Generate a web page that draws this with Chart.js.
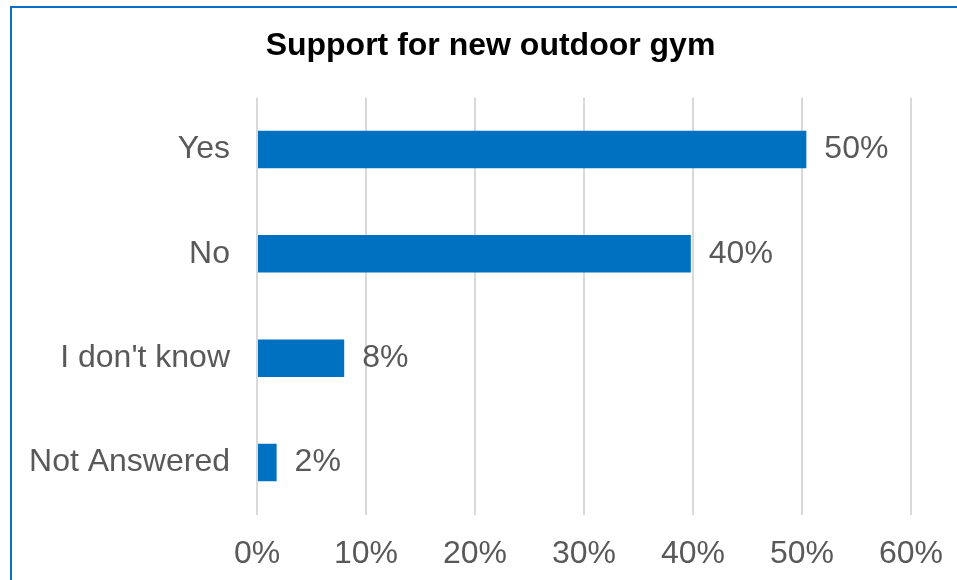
<!DOCTYPE html>
<html>
<head>
<meta charset="utf-8">
<title>Support for new outdoor gym</title>
<script src="https://cdn.jsdelivr.net/npm/chart.js@4"></script>
<style>
  html, body { margin: 0; padding: 0; background: #fff; overflow: hidden; }
  body { width: 957px; height: 580px; position: relative; }
  #box { position: absolute; left: 0; top: 0; width: 957px; height: 593px; }
  #frame {
    position: absolute; left: 10px; top: 6px; width: 1000px; height: 1000px;
    border-left: 2px solid #0a70c6; border-top: 2px solid #0a70c6;
    pointer-events: none;
  }
</style>
</head>
<body>
<div id="box"><canvas id="gym-chart"></canvas></div>
<div id="frame"></div>
<script>
// 数据
var categories = ["Yes", "No", "I don't know", "Not Answered"];
var shares = [50.4, 39.8, 8.0, 1.8];
var xTicks = [0, 10, 20, 30, 40, 50, 60];

var FONT = "'Liberation Sans', Arial, sans-serif";
var GREY = "#595959";

// 条形末端的百分比标签
var barLabels = {
  id: "barLabels",
  afterDatasetsDraw: function (chart) {
    var ctx = chart.ctx;
    var meta = chart.getDatasetMeta(0);
    ctx.save();
    ctx.font = "32px " + FONT;
    ctx.fillStyle = GREY;
    ctx.textAlign = "left";
    ctx.textBaseline = "middle";
    meta.data.forEach(function (bar, i) {
      ctx.fillText(Math.round(shares[i]) + "%", bar.x + 18, bar.y);
    });
    ctx.restore();
  },
};

new Chart(document.getElementById("gym-chart").getContext("2d"), {
  type: "bar",
  data: {
    labels: categories,
    datasets: [{
      data: shares,
      backgroundColor: "#0070C0",
      borderWidth: 0,
      categoryPercentage: 1,
      barPercentage: 0.36,
    }],
  },
  options: {
    indexAxis: "y",
    responsive: true,
    maintainAspectRatio: false,
    animation: false,
    layout: { padding: { left: 24, right: 0, top: 0, bottom: 0 } },
    plugins: {
      legend: { display: false },
      tooltip: { enabled: false },
      title: {
        display: true,
        text: "Support for new outdoor gym",
        color: "#000",
        font: { family: FONT, size: 32, weight: "bold" },
        padding: { top: 27, bottom: 32 },
      },
    },
    scales: {
      x: {
        min: xTicks[0],
        max: xTicks[xTicks.length - 1],
        afterBuildTicks: function (axis) {
          axis.ticks = xTicks.map(function (v) { return { value: v }; });
        },
        // 右侧留白
        afterFit: function (axis) {
          axis.paddingLeft = 0;
          axis.paddingRight = 46;
        },
        border: { display: false },
        grid: { color: "#d9d9d9", lineWidth: 2, drawTicks: false },
        ticks: {
          color: GREY,
          font: { family: FONT, size: 32 },
          padding: 20,
          maxRotation: 0,
          callback: function (v) { return v + "%"; },
        },
      },
      y: {
        afterFit: function (axis) { axis.width = 233; },
        border: { display: false },
        grid: { display: false, drawTicks: false },
        ticks: {
          color: GREY,
          font: { family: FONT, size: 32 },
          padding: 27,
        },
      },
    },
  },
  plugins: [barLabels],
});
</script>
</body>
</html>
